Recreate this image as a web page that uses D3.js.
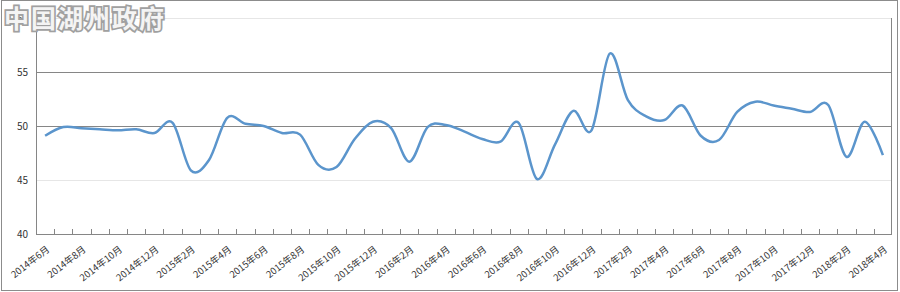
<!DOCTYPE html>
<html>
<head>
<meta charset="utf-8">
<script src="https://cdn.jsdelivr.net/npm/d3@7"></script>
<style>
  body { margin: 0; background: #fff; }
  text { font-family: "Noto Sans CJK SC", "DejaVu Sans", sans-serif; }
</style>
</head>
<body>
<div id="chart"></div>
<script>
// months 2014-6 .. 2018-4
const months = ['2014年6月', '2014年7月', '2014年8月', '2014年9月', '2014年10月', '2014年11月', '2014年12月',
    '2015年1月', '2015年2月', '2015年3月', '2015年4月', '2015年5月', '2015年6月', '2015年7月', '2015年8月',
    '2015年9月', '2015年10月', '2015年11月', '2015年12月', '2016年1月', '2016年2月', '2016年3月', '2016年4月',
    '2016年5月', '2016年6月', '2016年7月', '2016年8月', '2016年9月', '2016年10月', '2016年11月', '2016年12月',
    '2017年1月', '2017年2月', '2017年3月', '2017年4月', '2017年5月', '2017年6月', '2017年7月', '2017年8月',
    '2017年9月', '2017年10月', '2017年11月', '2017年12月', '2018年1月', '2018年2月', '2018年3月', '2018年4月']

const values = [49.1, 49.9, 49.8, 49.7, 49.6, 49.7, 49.35, 50.3, 45.9, 46.85,
    50.75, 50.2, 50.0, 49.35, 49.2, 46.4, 46.2, 48.8, 50.4, 49.8,
    46.7, 49.9, 50.1, 49.5, 48.8, 48.55, 50.3, 45.1, 48.3, 51.4,
    49.6, 56.7, 52.4, 50.9, 50.55, 51.9, 49.1, 48.7, 51.3, 52.25,
    51.9, 51.6, 51.3, 51.95, 47.15, 50.4, 47.3]

const yTicks = [40, 45, 50, 55, 60]
const labelMonths = months.filter((m, i) => i % 2 === 0)

const width = 900, height = 292

const svg = d3.select('#chart')
    .append('svg')
    .attr('width', width)
    .attr('height', height)

// outer frame
svg.append('rect')
    .attr('x', 1.5).attr('y', 0.5)
    .attr('width', 896).attr('height', 290)
    .attr('fill', '#fff')
    .attr('stroke', '#8c8c8c')

const x = d3.scaleBand()
    .domain(months)
    .range([36, 892])

const y = d3.scaleLinear()
    .domain([40, 60])
    .range([234, 18])

// gridlines
svg.selectAll('line.grid')
    .data(yTicks.filter(d => d > 40))
    .enter()
    .append('line')
    .attr('x1', 36).attr('x2', 892)
    .attr('y1', d => Math.round(y(d)) + 0.5)
    .attr('y2', d => Math.round(y(d)) + 0.5)
    .attr('stroke', d => (d === 50 || d === 55) ? '#868686' : '#e6e6e6')

// y labels
const yAxis = svg.append('g')
    .attr('transform', 'translate(36,0)')
    .call(d3.axisLeft(y).tickValues(yTicks).tickSize(0).tickPadding(8))
yAxis.select('.domain').remove()
yAxis.selectAll('text')
    .attr('font-size', 10)
    .attr('fill', '#333')

// axis lines
svg.append('line')
    .attr('x1', 36.5).attr('x2', 36.5)
    .attr('y1', 18).attr('y2', 234)
    .attr('stroke', '#868686')
svg.append('line')
    .attr('x1', 891.5).attr('x2', 891.5)
    .attr('y1', 18).attr('y2', 234)
    .attr('stroke', '#868686')
svg.append('line')
    .attr('x1', 36).attr('x2', 892)
    .attr('y1', 234.5).attr('y2', 234.5)
    .attr('stroke', '#868686')

// x ticks on category boundaries
svg.selectAll('line.xtick')
    .data(months)
    .enter()
    .append('line')
    .attr('x1', d => Math.round(x(d)) + 0.5)
    .attr('x2', d => Math.round(x(d)) + 0.5)
    .attr('y1', 229).attr('y2', 234)
    .attr('stroke', '#868686')

// x labels
svg.selectAll('text.xlab')
    .data(labelMonths)
    .enter()
    .append('text')
    .attr('transform', d => 'translate(' + (x(d) + x.bandwidth() / 2 + 3) + ',248) rotate(-38)')
    .attr('text-anchor', 'end')
    .attr('dy', '0.35em')
    .attr('font-size', 9.5)
    .attr('fill', '#333')
    .text(d => d)

// the line
const line = d3.line()
    .x((d, i) => x(months[i]) + x.bandwidth() / 2)
    .y(d => y(d))
    .curve(d3.curveCardinal.tension(0))

svg.append('path')
    .datum(values)
    .attr('d', line)
    .attr('fill', 'none')
    .attr('stroke', '#5b95cc')
    .attr('stroke-width', 2.5)
    .attr('stroke-linejoin', 'round')

// watermark
svg.append('text')
    .attr('x', 4).attr('y', 28)
    .attr('font-size', 25)
    .attr('font-weight', 'bold')
    .attr('letter-spacing', 2)
    .attr('fill', '#f4f4f4')
    .attr('stroke', '#a0a0a0')
    .attr('stroke-width', 3.5)
    .attr('paint-order', 'stroke')
    .text('中国湖州政府')
</script>
</body>
</html>
